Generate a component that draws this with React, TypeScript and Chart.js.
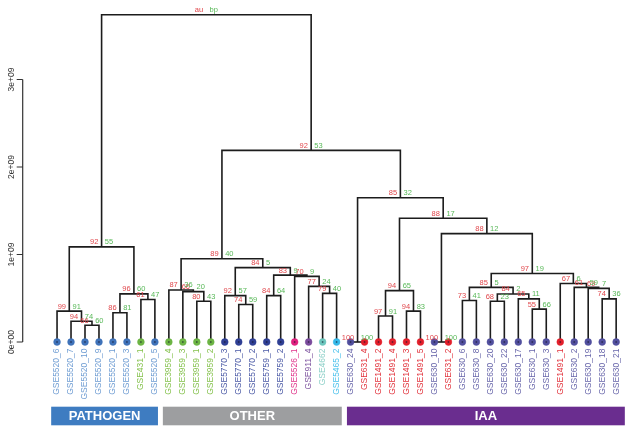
import React, { useEffect, useRef } from 'react';
import { Chart, registerables } from 'chart.js';
Chart.register(...registerables);

// ---- data ----
const leafNames = [
  'GSE5520_6', 'GSE5520_7', 'GSE5520_10', 'GSE5520_9', 'GSE5520_1', 'GSE5520_3', 'GSE431_1', 'GSE5520_5',
  'GSE3959_4', 'GSE3959_3', 'GSE3959_1', 'GSE3959_2', 'GSE5770_3', 'GSE5770_1', 'GSE5770_2', 'GSE5759_1',
  'GSE5759_2', 'GSE5526_1', 'GSE911_4', 'GSE4662', 'GSE5465_2', 'GSE630_24', 'GSE631_4', 'GSE1491_2',
  'GSE1491_4', 'GSE1491_3', 'GSE1491_5', 'GSE630_10', 'GSE631_2', 'GSE630_6', 'GSE630_8', 'GSE630_20',
  'GSE630_22', 'GSE630_17', 'GSE630_1', 'GSE630_3', 'GSE1491_1', 'GSE630_2', 'GSE630_19', 'GSE630_18', 'GSE630_21',
];
const leafGroups = [
  'path', 'path', 'path', 'path', 'path', 'path', 'green', 'path',
  'green', 'green', 'green', 'green', 'navy', 'navy', 'navy', 'navy',
  'navy', 'magenta', 'purple', 'teal', 'cyan', 'slate', 'red', 'red',
  'red', 'red', 'red', 'slate', 'red', 'slate', 'slate', 'slate',
  'slate', 'slate', 'slate', 'slate', 'red', 'slate', 'slate', 'slate', 'slate',
];
// hclust-style merges: negative = leaf number, positive = earlier merge number
const mergeLeft = [-3, -2, -1, -5, -7, 4, 3, -11, -10, -9, -14, -13, -16, -20, -19, -18, 13, 12, 10, -22,
  -24, -26, 21, -28, -30, -32, -35, -34, 26, 25, -40, -39, -38, -37, 30, 24, 23, 20, 19, 7];
const mergeRight = [-4, 1, 2, -6, -8, 5, 6, -12, 8, 9, -15, 11, -17, -21, 14, 15, 16, 17, 18, -23,
  -25, -27, 22, -29, -31, -33, -36, 27, 28, 29, -41, 31, 32, 33, 34, 35, 36, 37, 38, 39];
const mergeHeights = [0.192e9, 0.237e9, 0.353e9, 0.335e9, 0.485e9, 0.55e9, 1.087e9, 0.466e9, 0.576e9, 0.595e9,
  0.429e9, 0.53e9, 0.53e9, 0.556e9, 0.636e9, 0.75e9, 0.764e9, 0.85e9, 0.952e9, 0,
  0.297e9, 0.353e9, 0.587e9, 0, 0.474e9, 0.466e9, 0.376e9, 0.493e9, 0.549e9, 0.624e9,
  0.493e9, 0.613e9, 0.624e9, 0.669e9, 0.782e9, 1.238e9, 1.414e9, 1.648e9, 2.19e9, 3.74e9];
const auValues = ['66', '94', '99', '86', '61', '96', '92', '80', '66', '87', '74', '92', '84', '79', '77', '70', '83', '84', '89', '100',
  '97', '94', '94', '100', '73', '68', '55', '65', '84', '85', '74', '69', '61', '67', '97', '88', '88', '85', '92', 'au'];
const bpValues = ['60', '74', '91', '81', '47', '60', '55', '43', '20', '36', '59', '57', '64', '40', '24', '9', '9', '5', '40', '100',
  '91', '83', '65', '100', '41', '23', '66', '11', '2', '5', '36', '7', '59', '6', '19', '12', '17', '32', '53', 'bp'];
const yTickValues = [0, 1e9, 2e9, 3e9];
const yTickLabels = ['0e+00', '1e+09', '2e+09', '3e+09'];
const groupNames = ['PATHOGEN', 'OTHER', 'IAA'];
const groupStart = [0.58, 8.57, 21.74];
const groupEnd = [8.22, 21.37, 41.62];

// ---- styles ----
const palette: Record<string, { dot: string; text: string }> = {
  path: { dot: '#3f72b9', text: '#6f9dd3' },
  green: { dot: '#6cb444', text: '#86c24e' },
  navy: { dot: '#2f3f94', text: '#4b5aa6' },
  magenta: { dot: '#e0207f', text: '#e0348a' },
  purple: { dot: '#7a4a9c', text: '#7f55a0' },
  teal: { dot: '#6cc6bd', text: '#8dd0c8' },
  cyan: { dot: '#36b9e9', text: '#4dc2ec' },
  slate: { dot: '#514f9e', text: '#6967ab' },
  red: { dot: '#e21f2b', text: '#e2343d' },
};
const groupColors = ['#3e7cc1', '#9d9ea0', '#6a2d8f'];

function buildTree() {
  const nodeX: number[] = [];
  const childPos = (id: number) =>
    id < 0 ? { x: -id, y: 0 } : { x: nodeX[id - 1], y: mergeHeights[id - 1] };
  const segs: { x: number; y: number }[][] = [];
  for (let i = 0; i < mergeLeft.length; i++) {
    const l = childPos(mergeLeft[i]);
    const r = childPos(mergeRight[i]);
    const h = mergeHeights[i];
    nodeX.push((l.x + r.x) / 2);
    segs.push([
      { x: l.x, y: l.y },
      { x: l.x, y: h },
      { x: r.x, y: h },
      { x: r.x, y: r.y },
    ]);
  }
  return { nodeX, segs };
}

export default function App() {
  const ref = useRef<HTMLCanvasElement | null>(null);
  useEffect(() => {
    document.body.style.margin = '0';
    const canvas = ref.current;
    if (!canvas) return;
    const { nodeX, segs } = buildTree();

    const lineSets = segs.map((s) => ({
      type: 'scatter' as const,
      data: s,
      showLine: true,
      borderColor: '#1c1c1c',
      borderWidth: 1.6,
      pointRadius: 0,
      tension: 0,
      clip: false as any,
      order: 2,
    }));
    const leafData = leafNames.map((_, i) => ({ x: i + 1, y: 0 }));
    const pointSet = {
      type: 'scatter' as const,
      data: leafData,
      pointRadius: 3.4,
      pointBackgroundColor: leafGroups.map((g) => palette[g].dot),
      pointBorderColor: leafGroups.map((g) => palette[g].dot),
      pointBorderWidth: 0.5,
      clip: false as any,
      order: 1,
    };
    const centerSet = {
      type: 'scatter' as const,
      data: leafData,
      pointRadius: 0.9,
      pointBackgroundColor: 'rgba(20,20,40,0.55)',
      pointBorderWidth: 0,
      clip: false as any,
      order: 0,
    };

    const dendroPlugin = {
      id: 'dendro',
      afterDraw(chart: any) {
        const ctx = chart.ctx as CanvasRenderingContext2D;
        const xs = chart.scales.x;
        const ys = chart.scales.y;
        ctx.save();
        // au / bp labels
        ctx.font = '7.5px "Liberation Sans", Arial, sans-serif';
        ctx.textBaseline = 'alphabetic';
        for (let i = 0; i < nodeX.length; i++) {
          const px = xs.getPixelForValue(nodeX[i]);
          const py = ys.getPixelForValue(mergeHeights[i]) - 2.5;
          ctx.fillStyle = '#e0474c';
          ctx.textAlign = 'right';
          ctx.fillText(auValues[i], px - 3.3, py);
          ctx.fillStyle = '#58b858';
          ctx.textAlign = 'left';
          ctx.fillText(bpValues[i], px + 3.2, py);
        }
        // leaf labels
        ctx.font = '8.5px "Liberation Sans", Arial, sans-serif';
        ctx.textAlign = 'right';
        ctx.textBaseline = 'middle';
        const y0 = ys.getPixelForValue(0);
        leafNames.forEach((name, i) => {
          const px = xs.getPixelForValue(i + 1);
          ctx.save();
          ctx.translate(px, y0 + 6.5);
          ctx.rotate(-Math.PI / 2);
          ctx.fillStyle = palette[leafGroups[i]].text;
          ctx.fillText(name, 0, 0);
          ctx.restore();
        });
        // y axis (R style)
        const axX = 22.7;
        ctx.strokeStyle = '#333';
        ctx.lineWidth = 1.2;
        ctx.beginPath();
        ctx.moveTo(axX, ys.getPixelForValue(yTickValues[0]));
        ctx.lineTo(axX, ys.getPixelForValue(yTickValues[yTickValues.length - 1]));
        yTickValues.forEach((v) => {
          const ty = ys.getPixelForValue(v);
          ctx.moveTo(axX, ty);
          ctx.lineTo(axX - 6, ty);
        });
        ctx.stroke();
        ctx.fillStyle = '#333';
        ctx.font = '8.5px "Liberation Sans", Arial, sans-serif';
        ctx.textAlign = 'center';
        ctx.textBaseline = 'middle';
        yTickValues.forEach((v, i) => {
          const ty = ys.getPixelForValue(v);
          ctx.save();
          ctx.translate(11.5, ty);
          ctx.rotate(-Math.PI / 2);
          ctx.fillText(yTickLabels[i], 0, 0);
          ctx.restore();
        });
        // group bars
        const barTop = 406.7;
        const barH = 18.6;
        ctx.font = 'bold 13px "Liberation Sans", Arial, sans-serif';
        groupNames.forEach((g, i) => {
          const x1 = xs.getPixelForValue(groupStart[i]);
          const x2 = xs.getPixelForValue(groupEnd[i]);
          ctx.fillStyle = groupColors[i];
          ctx.fillRect(x1, barTop, x2 - x1, barH);
          ctx.fillStyle = '#ffffff';
          ctx.textAlign = 'center';
          ctx.textBaseline = 'middle';
          ctx.fillText(g, (x1 + x2) / 2, barTop + barH / 2 + 0.5);
        });
        ctx.restore();
      },
    };

    const chart = new Chart(canvas, {
      type: 'scatter',
      data: { datasets: [...lineSets, pointSet, centerSet] as any },
      options: {
        animation: false,
        responsive: false,
        events: [],
        layout: { padding: { left: 0, right: 0, top: 0, bottom: 88 } },
        plugins: { legend: { display: false }, tooltip: { enabled: false } },
        scales: {
          x: { type: 'linear', display: false, min: -2.759, max: 41.74 },
          y: { type: 'linear', display: false, min: 0, max: 3.857e9 },
        },
      },
      plugins: [dendroPlugin],
    });
    return () => chart.destroy();
  }, []);
  return (
    <div style={{ width: 631, height: 430, overflow: 'hidden', background: '#fff' }}>
      <canvas ref={ref} width={631} height={430} style={{ display: 'block' }} />
    </div>
  );
}
